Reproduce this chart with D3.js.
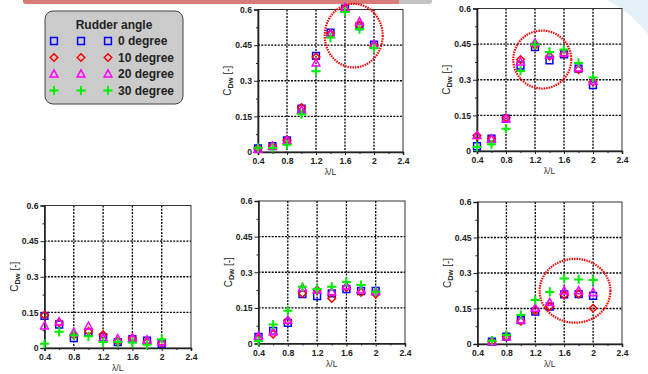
<!DOCTYPE html>
<html>
<head>
<meta charset="utf-8">
<script src="https://cdn.jsdelivr.net/npm/d3@7"></script>
<style>
  body { margin: 0; background: #fff; }
  svg { display: block; font-family: "Liberation Sans", Arial, sans-serif; }
</style>
</head>
<body>
<svg id="chart" width="648" height="374"></svg>
<script>
// wave length ratio on the x axis
const lambdaL = [0.4, 0.6, 0.8, 1.0, 1.2, 1.4, 1.6, 1.8, 2.0];
const rudderAngles = ['0 degree', '10 degree', '20 degree', '30 degree'];
const xTicks = [0.4, 0.8, 1.2, 1.6, 2.0, 2.4];
const yTicks = [0, 0.15, 0.3, 0.45, 0.6];

// CDw per rudder angle (0, 10, 20, 30 deg)
const panelA = [
  [0.015, 0.025, 0.049, 0.183, 0.405, 0.503, 0.604, 0.530, 0.452],
  [0.015, 0.025, 0.050, 0.187, 0.400, 0.499, 0.600, 0.534, 0.448],
  [0.012, 0.024, 0.048, 0.176, 0.375, 0.495, 0.607, 0.548, 0.452],
  [0.018, 0.017, 0.031, 0.159, 0.340, 0.482, 0.590, 0.517, 0.438]
];
const panelB = [
  [0.020, 0.052, 0.136, 0.360, 0.438, 0.382, 0.407, 0.347, 0.277],
  [0.065, 0.052, 0.140, 0.385, 0.445, 0.399, 0.410, 0.343, 0.291],
  [0.065, 0.050, 0.135, 0.375, 0.455, 0.403, 0.413, 0.350, 0.294],
  [0.017, 0.028, 0.094, 0.337, 0.448, 0.417, 0.427, 0.371, 0.309]
];
const panelC = [
  [0.135, 0.099, 0.042, 0.065, 0.046, 0.025, 0.037, 0.031, 0.018],
  [0.138, 0.106, 0.054, 0.070, 0.056, 0.028, 0.042, 0.025, 0.021],
  [0.093, 0.110, 0.065, 0.092, 0.042, 0.039, 0.042, 0.034, 0.025],
  [0.018, 0.068, 0.054, 0.049, 0.025, 0.025, 0.023, 0.014, 0.037]
];
const panelD = [
  [0.028, 0.053, 0.087, 0.208, 0.200, 0.211, 0.229, 0.221, 0.221],
  [0.021, 0.039, 0.096, 0.211, 0.225, 0.190, 0.236, 0.215, 0.208],
  [0.031, 0.049, 0.098, 0.235, 0.225, 0.218, 0.242, 0.225, 0.218],
  [0.011, 0.080, 0.138, 0.239, 0.230, 0.239, 0.259, 0.246, 0.218]
];
const panelE = [
  [null, 0.010, 0.031, 0.101, 0.137, 0.158, 0.210, 0.211, 0.203],
  [null, 0.010, 0.031, 0.097, 0.141, 0.158, 0.207, 0.211, 0.151],
  [null, 0.010, 0.031, 0.101, 0.151, 0.175, 0.224, 0.225, 0.217],
  [null, 0.014, 0.038, 0.123, 0.186, 0.220, 0.277, 0.273, 0.270]
];

// highlighted regions [cx, cy, rx, ry] in data units
const ringA = [1.72, 0.49, 0.40, 0.134];
const ringB = [1.30, 0.385, 0.40, 0.122];
const ringE = [1.75, 0.225, 0.49, 0.135];

const colors = ['#0000ff', '#ff0000', '#ff00ff', '#00ee00'];

const panels = [
  { data: panelA, ring: ringA, left: 258, right: 403, top: 9.5, bottom: 152 },
  { data: panelB, ring: ringB, left: 477, right: 622, top: 8.5, bottom: 151 },
  { data: panelC, ring: null, left: 44.5, right: 191, top: 205.5, bottom: 348 },
  { data: panelD, ring: null, left: 258.5, right: 405, top: 201, bottom: 343.5 },
  { data: panelE, ring: ringE, left: 477.5, right: 622, top: 202, bottom: 344 }
];

const svg = d3.select('#chart');

// slide decoration
svg.append('path')
  .attr('d', 'M606,0 Q626,8 648,34 L648,0 Z')
  .attr('fill', '#e4f1f8');
svg.append('path')
  .attr('d', 'M23,0 H432 V1 Q432,4 429,4 H26 Q23,4 23,1 Z')
  .attr('fill', '#c4c4c4');
svg.append('path')
  .attr('d', 'M23,0 H399 V4 H26 Q23,4 23,1 Z')
  .attr('fill', '#d97b7b');

// marker shapes
function markerPath(i) {
  if (i === 0) return 'M-3.4,-3.4H3.4V3.4H-3.4Z';
  if (i === 1) return 'M0,-3.8L3.8,0L0,3.8L-3.8,0Z';
  if (i === 2) return 'M0,-4.2L3.9,3L-3.9,3Z';
  return 'M-4.6,0H4.6M0,-4.6V4.6';
}

function drawMarker(g, i, x, y) {
  g.append('path')
    .attr('transform', `translate(${x},${y})`)
    .attr('d', markerPath(i))
    .attr('fill', 'none')
    .attr('stroke', colors[i])
    .attr('stroke-width', i === 3 ? 2 : 1.5);
}

panels.forEach((p) => {
  const x = d3.scaleLinear().domain([0.4, 2.4]).range([p.left, p.right]);
  const y = d3.scaleLinear().domain([0, 0.6]).range([p.bottom, p.top]);
  const g = svg.append('g');

  // dashed grid
  g.append('g')
    .selectAll('line')
    .data(xTicks.slice(1, -1))
    .join('line')
    .attr('x1', (d) => x(d)).attr('x2', (d) => x(d))
    .attr('y1', p.top).attr('y2', p.bottom)
    .attr('stroke', '#000').attr('stroke-width', 1.3)
    .attr('stroke-dasharray', '2,1.3');
  g.append('g')
    .selectAll('line')
    .data(yTicks.slice(1, -1))
    .join('line')
    .attr('y1', (d) => y(d)).attr('y2', (d) => y(d))
    .attr('x1', p.left).attr('x2', p.right)
    .attr('stroke', '#000').attr('stroke-width', 1.3)
    .attr('stroke-dasharray', '2,1.3');

  // frame
  g.append('rect')
    .attr('x', p.left).attr('y', p.top)
    .attr('width', p.right - p.left).attr('height', p.bottom - p.top)
    .attr('fill', 'none').attr('stroke', '#333').attr('stroke-width', 1);

  // axes
  const xAxis = g.append('g')
    .attr('transform', `translate(0,${p.bottom})`)
    .call(d3.axisBottom(x).tickValues(xTicks).tickSize(3).tickPadding(3).tickFormat((d) => String(d)));
  g.append('g')
    .attr('transform', `translate(0,${p.bottom})`)
    .call(d3.axisBottom(x).tickValues([0.6, 1.0, 1.4, 1.8, 2.2]).tickSize(2).tickFormat(''))
    .call((a) => a.select('.domain').remove());
  const yAxis = g.append('g')
    .attr('transform', `translate(${p.left},0)`)
    .call(d3.axisLeft(y).tickValues(yTicks).tickSize(4).tickPadding(2).tickFormat((d) => String(d)));
  g.append('g')
    .attr('transform', `translate(${p.left},0)`)
    .call(d3.axisLeft(y).tickValues([0.075, 0.225, 0.375, 0.525]).tickSize(2).tickFormat(''))
    .call((a) => a.select('.domain').remove());

  [xAxis, yAxis].forEach((a) => {
    a.select('.domain').attr('stroke', '#222').attr('stroke-width', 1.6);
    a.selectAll('.tick text')
      .attr('fill', '#222')
      .attr('font-size', 8.6)
      .attr('font-weight', 'bold')
      .attr('font-family', '"Liberation Sans", Arial, sans-serif');
  });
  g.selectAll('.tick line').attr('stroke', '#222');

  // axis titles
  const yl = g.append('text')
    .attr('transform', `translate(${p.left - 27},${(p.top + p.bottom) / 2}) rotate(-90)`)
    .attr('text-anchor', 'middle')
    .attr('font-size', 10)
    .attr('fill', '#222');
  yl.append('tspan').text('C');
  yl.append('tspan').attr('font-size', 7.5).attr('font-weight', 'bold').attr('dy', 2).text('Dw');
  yl.append('tspan').attr('dy', -2).text(' [-]');

  g.append('text')
    .attr('x', (p.left + p.right) / 2)
    .attr('y', p.bottom + 23)
    .attr('text-anchor', 'middle')
    .attr('font-size', 8.5)
    .attr('fill', '#333')
    .text('λ/L');

  // markers
  p.data.forEach((series, i) => {
    series.forEach((v, j) => {
      if (v === null) return;
      drawMarker(g, i, x(lambdaL[j]), y(v));
    });
  });

  // red highlight ring
  if (p.ring) {
    const [cx, cy, rx, ry] = p.ring;
    g.append('ellipse')
      .attr('cx', x(cx)).attr('cy', y(cy))
      .attr('rx', x(0.4 + rx) - x(0.4))
      .attr('ry', y(0) - y(ry))
      .attr('fill', 'none')
      .attr('stroke', '#ff0000')
      .attr('stroke-width', 2.2)
      .attr('stroke-dasharray', '1.5,1');
  }
});

// legend
const legend = svg.append('g');
legend.append('rect')
  .attr('x', 45).attr('y', 11)
  .attr('width', 138).attr('height', 93)
  .attr('rx', 8)
  .attr('fill', '#cbcbcb')
  .attr('stroke', '#444').attr('stroke-width', 1);
legend.append('text')
  .attr('x', 114).attr('y', 28.5)
  .attr('text-anchor', 'middle')
  .attr('font-size', 12).attr('font-weight', 'bold')
  .attr('fill', '#222')
  .text('Rudder angle');
rudderAngles.forEach((label, i) => {
  const cy = 41 + i * 16.5;
  [54, 81, 108].forEach((cx) => drawMarker(legend, i, cx, cy));
  legend.append('text')
    .attr('x', 118).attr('y', cy + 4.3)
    .attr('font-size', 12).attr('font-weight', 'bold')
    .attr('fill', '#222')
    .text(label);
});
</script>
</body>
</html>
